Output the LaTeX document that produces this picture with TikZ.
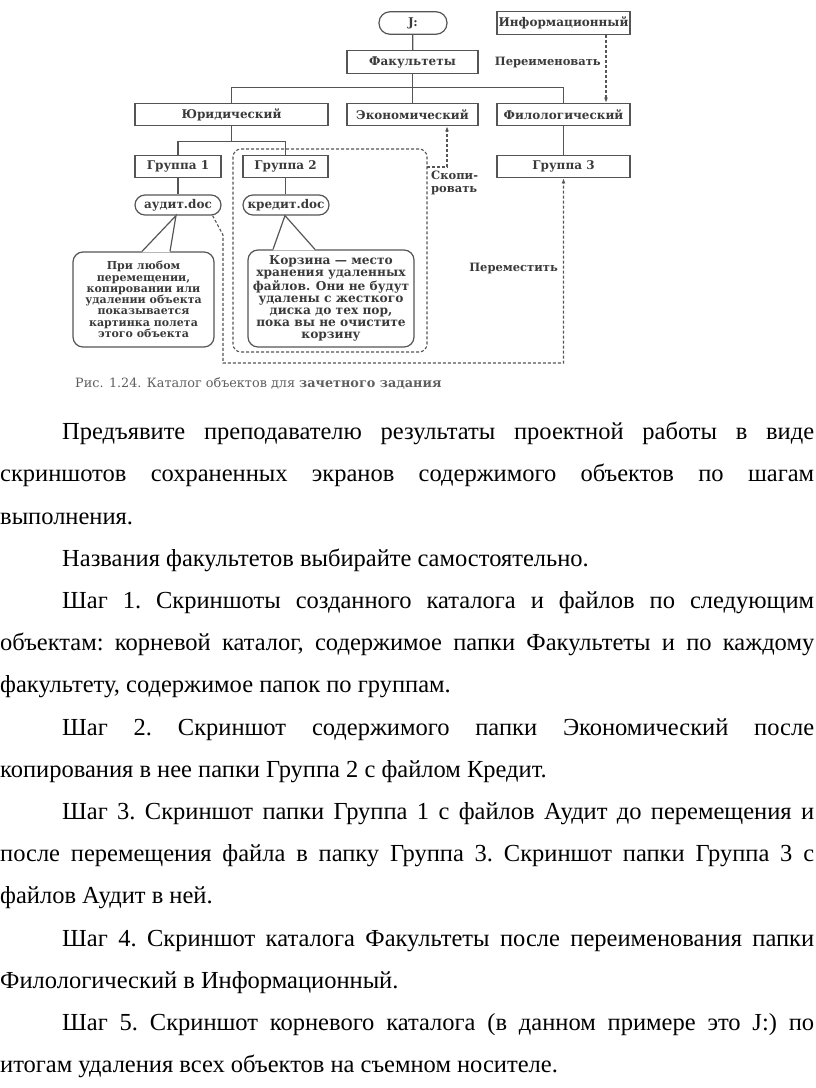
\documentclass[tikz,border=0pt]{standalone}
\usepackage{fontspec}
\setmainfont{Liberation Serif}
\newfontfamily\diafont{DejaVu Serif}
\usepackage{tikz}
\usetikzlibrary{positioning,arrows.meta,calc}
\definecolor{ink}{HTML}{3A3A3A}
\definecolor{edge}{HTML}{555555}
\definecolor{muted}{HTML}{5E5E5E}
\tikzset{
  fld/.style    = {draw=edge, line width=1.2pt, inner sep=0pt, minimum height=22.5pt, text=ink,
                   font=\diafont\bfseries\fontsize{12}{13}\selectfont},
  docbox/.style = {fld, rounded corners=10pt, minimum height=20pt},
  note/.style   = {draw=edge, line width=1.2pt, rounded corners=10pt, inner sep=0pt, align=center, text=ink,
                   font=\diafont\bfseries\fontsize{11}{11.3}\selectfont},
  lab/.style    = {inner sep=0pt, align=left, text=ink, font=\diafont\bfseries\fontsize{11.5}{12.5}\selectfont},
  lnk/.style    = {draw=edge, line width=1.2pt},
  dsh/.style    = {draw=edge, line width=1.1pt, dash pattern=on 3pt off 2pt},
  dar/.style    = {dsh, -{Latex[length=5pt,width=4pt]}},
  capt/.style   = {inner sep=0pt, text=muted, font=\diafont\fontsize{12.8}{14}\selectfont},
  prose/.style  = {inner sep=0pt, text width=814pt, align=justify, text=black,
                   font=\fontsize{24.5}{42.2}\selectfont},
}

\begin{document}
\begin{tikzpicture}[x=1pt, y=-1pt]
  \useasboundingbox (0,0) rectangle (816,1088);

  \node[fld, rounded corners=11pt, minimum width=68pt] (root) at (413,23) {J:};
  \node[fld, minimum width=133pt] (info) at (563.5,23) {Информационный};
  \node[fld, minimum width=131pt] (fac) at (412.5,62) {Факультеты};
  \node[fld, minimum width=193pt] (jur) at (231.5,114.5) {Юридический};
  \node[fld, minimum width=131pt] (eco) at (412.5,114.5) {Экономический};
  \node[fld, minimum width=133pt] (phil) at (563.5,114.5) {Филологический};
  \node[fld, minimum width=86pt] (g1) at (178,166.5) {Группа 1};
  \node[fld, minimum width=85pt] (g2) at (285.5,166.5) {Группа 2};
  \node[fld, minimum width=133pt] (g3) at (563.5,166.5) {Группа 3};
  \node[docbox, minimum width=86pt] (audit) at (178,205) {аудит.doc};
  \node[docbox, minimum width=86pt] (credit) at (286,205) {кредит.doc};

  \draw[lnk] (root) -- (fac);
  \draw[lnk] (fac) -- (eco);
  \draw[lnk] (jur.north) -- ++(0,-15) -| (phil.north);
  \draw[lnk] (jur.south) -- ++(0,15) coordinate (jbus);
  \draw[lnk] (g1.north) |- (jbus) -| (g2.north);
  \draw[lnk] (g1) -- (audit);
  \draw[lnk] (g2.south) -- (g2.south |- credit.north);
  \draw[lnk] (phil) -- (g3);

  \node[note, minimum width=141pt, minimum height=95pt] (n1) at (143.5,299.5)
    {При любом\\перемещении,\\копировании или\\удалении объекта\\показывается\\картинка полета\\этого объекта};
  \node[note, minimum width=166pt, minimum height=97pt, font=\diafont\bfseries\fontsize{12.2}{12.2}\selectfont] (n2) at (331,298.5)
    {Корзина — место\\хранения удаленных\\файлов. Они не будут\\удалены с жесткого\\диска до тех пор,\\пока вы не очистите\\корзину};
  \fill[white] ($(n1.north)+(-1.5,1)$) -- ([xshift=-2pt]audit.south) -- ($(n1.north)+(26.5,1)$) -- cycle;
  \draw[lnk] ($(n1.north)+(-1.5,0)$) -- ([xshift=-2pt]audit.south) -- ($(n1.north)+(26.5,0)$);
  \fill[white] ($(n2.north)+(-58,1)$) -- ([xshift=-1pt]credit.south) -- ($(n2.north)+(-16,1)$) -- cycle;
  \draw[lnk] ($(n2.north)+(-58,0)$) -- ([xshift=-1pt]credit.south) -- ($(n2.north)+(-16,0)$);

  \node[dsh, rounded corners=8pt, minimum width=194pt, minimum height=203pt] (grp) at (330,250.5) {};

  \draw[dar] ([xshift=42.5pt]info.south) -- ([xshift=42.5pt]phil.north);
  \node[lab, anchor=east] (ren) at (601,62) {Переименовать};

  \coordinate (cp) at (427,167);
  \draw[dar] (cp) -| ([xshift=34.5pt]eco.south);
  \node[lab, anchor=north west] (copy) at (431,171) {Скопи-\\ровать};

  \coordinate (m1) at (223,235);
  \coordinate (m2) at (223,363);
  \draw[dar] ([xshift=-9pt]audit.south east) -- (m1) -- (m2) -| (g3.south);
  \node[lab, anchor=east] (mov) at (558,268) {Переместить};

  \node[capt, anchor=west] (cap) at (75,383) {Рис. 1.24. Каталог объектов для \textbf{зачетного задания}};

  \node[prose, anchor=north west] (txt) at (0,410) {%
    \setlength{\parindent}{62pt}\tolerance=10000\hyphenpenalty=10000\frenchspacing
    \hspace*{\parindent}\strut Предъявите преподавателю результаты проектной работы в виде\linebreak
    скриншотов сохраненных экранов содержимого объектов по шагам\linebreak
    выполнения.\par
    Названия факультетов выбирайте самостоятельно.\par
    Шаг 1. Скриншоты созданного каталога и файлов по следующим\linebreak
    объектам: корневой каталог, содержимое папки Факультеты и по каждому\linebreak
    факультету, содержимое папок по группам.\par
    Шаг 2. Скриншот содержимого папки Экономический после\linebreak
    копирования в нее папки Группа 2 с файлом Кредит.\par
    Шаг 3. Скриншот папки Группа 1 с файлов Аудит до перемещения и\linebreak
    после перемещения файла в папку Группа 3. Скриншот папки Группа 3 с\linebreak
    файлов Аудит в ней.\par
    Шаг 4. Скриншот каталога Факультеты после переименования папки\linebreak
    Филологический в Информационный.\par
    Шаг 5. Скриншот корневого каталога (в данном примере это J:) по\linebreak
    итогам удаления всех объектов на съемном носителе.\par};
\end{tikzpicture}
\end{document}
